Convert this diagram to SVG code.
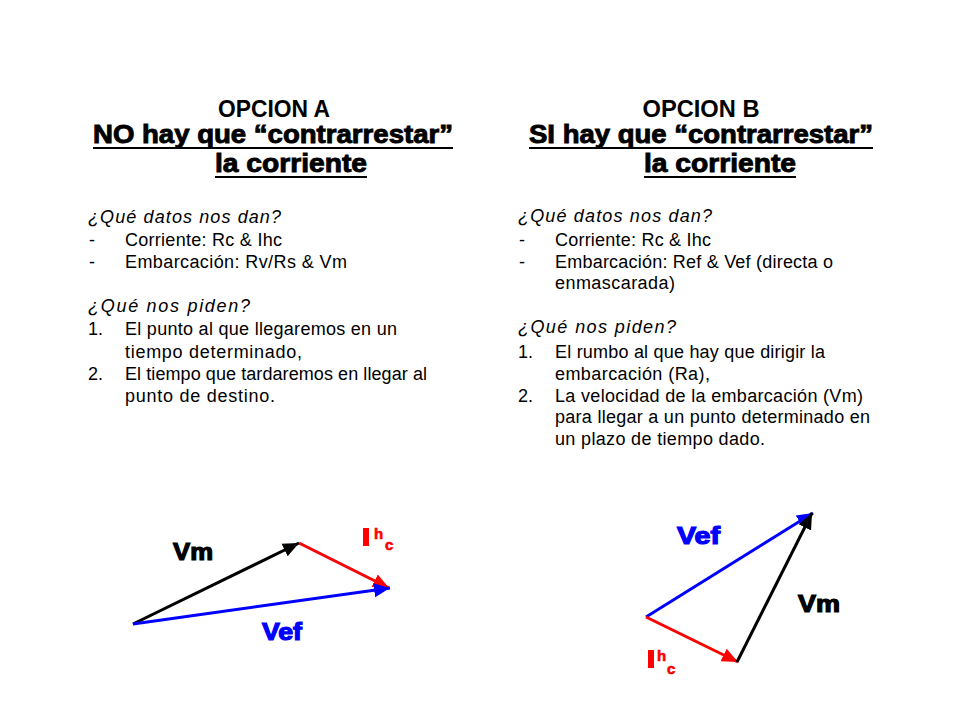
<svg xmlns="http://www.w3.org/2000/svg" width="960" height="720" viewBox="0 0 960 720">
<style>
.h1{font-family:"Liberation Sans",Arial,sans-serif;font-weight:bold;font-size:23px;fill:#000;text-anchor:middle}
.h2{font-family:"Liberation Sans",Arial,sans-serif;font-weight:bold;font-size:25px;fill:#000;stroke:#000;stroke-width:0.9}
.t{font-family:"Liberation Sans",Arial,sans-serif;font-size:18px;fill:#000}
.q{font-family:"Liberation Sans",Arial,sans-serif;font-size:18px;font-style:italic;fill:#000}
.ul{stroke:#000;stroke-width:2}
.lb{font-family:"Liberation Sans",Arial,sans-serif;font-weight:bold;font-size:23px;stroke-width:1.2}
.sx{font-family:"Liberation Sans",Arial,sans-serif;font-weight:bold;font-size:15px;stroke:#ff0000;stroke-width:0.6}
.vec{stroke-width:3;fill:none}
</style>
<defs>
<marker id="ak" markerUnits="userSpaceOnUse" markerWidth="20" markerHeight="20" refX="16" refY="7" orient="auto" viewBox="0 0 20 14"><polygon points="0,0 16,7 0,14" fill="#000"/></marker>
<marker id="ar" markerUnits="userSpaceOnUse" markerWidth="20" markerHeight="20" refX="16" refY="7" orient="auto" viewBox="0 0 20 14"><polygon points="0,0 16,7 0,14" fill="#ff0000"/></marker>
<marker id="ab" markerUnits="userSpaceOnUse" markerWidth="20" markerHeight="20" refX="16" refY="7" orient="auto" viewBox="0 0 20 14"><polygon points="0,0 16,7 0,14" fill="#0000ff"/></marker>
</defs>
<rect width="960" height="720" fill="#fff"/>

<g id="opcionA">
<text class="h1" x="274" y="117" textLength="112" lengthAdjust="spacingAndGlyphs">OPCION A</text>
<text class="h2" x="93" y="143" textLength="360" lengthAdjust="spacingAndGlyphs">NO hay que “contrarrestar”</text>
<line class="ul" x1="93" y1="148" x2="453" y2="148"/>
<text class="h2" x="215" y="172" textLength="152" lengthAdjust="spacingAndGlyphs">la corriente</text>
<line class="ul" x1="215" y1="177" x2="367" y2="177"/>
<text class="q" x="88" y="223" textLength="193">¿Qué datos nos dan?</text>
<text class="t" x="89" y="246">-</text>
<text class="t" x="125" y="246" textLength="157">Corriente: Rc &amp; Ihc</text>
<text class="t" x="89" y="268">-</text>
<text class="t" x="125" y="268" textLength="222">Embarcación: Rv/Rs &amp; Vm</text>
<text class="q" x="88" y="312" textLength="162">¿Qué nos piden?</text>
<text class="t" x="88" y="335">1.</text>
<text class="t" x="125" y="335" textLength="272">El punto al que llegaremos en un</text>
<text class="t" x="125" y="358" textLength="177">tiempo determinado,</text>
<text class="t" x="88" y="380">2.</text>
<text class="t" x="125" y="380" textLength="302">El tiempo que tardaremos en llegar al</text>
<text class="t" x="125" y="402" textLength="150">punto de destino.</text>
</g>

<g id="opcionB">
<text class="h1" x="701" y="117" textLength="117" lengthAdjust="spacingAndGlyphs">OPCION B</text>
<text class="h2" x="529" y="143" textLength="344" lengthAdjust="spacingAndGlyphs">SI hay que “contrarrestar”</text>
<line class="ul" x1="529" y1="148" x2="873" y2="148"/>
<text class="h2" x="644" y="172" textLength="152" lengthAdjust="spacingAndGlyphs">la corriente</text>
<line class="ul" x1="644" y1="177" x2="796" y2="177"/>
<text class="q" x="518" y="222" textLength="194">¿Qué datos nos dan?</text>
<text class="t" x="519" y="246">-</text>
<text class="t" x="555" y="246" textLength="156">Corriente: Rc &amp; Ihc</text>
<text class="t" x="519" y="268">-</text>
<text class="t" x="555" y="268" textLength="278">Embarcación: Ref &amp; Vef (directa o</text>
<text class="t" x="555" y="289" textLength="120">enmascarada)</text>
<text class="q" x="518" y="333" textLength="158">¿Qué nos piden?</text>
<text class="t" x="518" y="358">1.</text>
<text class="t" x="555" y="358" textLength="270">El rumbo al que hay que dirigir la</text>
<text class="t" x="555" y="380" textLength="155">embarcación (Ra),</text>
<text class="t" x="518" y="402">2.</text>
<text class="t" x="555" y="402" textLength="308">La velocidad de la embarcación (Vm)</text>
<text class="t" x="555" y="423" textLength="315">para llegar a un punto determinado en</text>
<text class="t" x="555" y="445" textLength="210">un plazo de tiempo dado.</text>
</g>

<g id="connectors">
<line class="vec" x1="133" y1="624" x2="299" y2="543" stroke="#000" marker-end="url(#ak)"/>
<line class="vec" x1="299" y1="543" x2="389" y2="588" stroke="#ff0000" marker-end="url(#ar)"/>
<line class="vec" x1="133" y1="624" x2="390" y2="588" stroke="#0000ff" marker-end="url(#ab)"/>
<line class="vec" x1="646" y1="617" x2="813" y2="513" stroke="#0000ff" marker-end="url(#ab)"/>
<line class="vec" x1="646" y1="617" x2="738" y2="662" stroke="#ff0000" marker-end="url(#ar)"/>
<line class="vec" x1="737" y1="662" x2="812" y2="513" stroke="#000" marker-end="url(#ak)"/>
</g>

<g id="labelsA">
<text class="lb" x="173" y="560" fill="#000" stroke="#000" textLength="40" lengthAdjust="spacingAndGlyphs">Vm</text>
<text class="lb" x="262" y="640" fill="#0000ff" stroke="#0000ff" textLength="40" lengthAdjust="spacingAndGlyphs">Vef</text>
<g fill="#ff0000">
<rect x="363" y="528" width="6" height="18"/>
<text class="sx" x="374" y="539">h</text>
<text class="sx" x="385" y="550">c</text>
</g>
</g>

<g id="labelsB">
<text class="lb" x="677" y="544" fill="#0000ff" stroke="#0000ff" textLength="43" lengthAdjust="spacingAndGlyphs">Vef</text>
<text class="lb" x="798" y="612" fill="#000" stroke="#000" textLength="42" lengthAdjust="spacingAndGlyphs">Vm</text>
<g fill="#ff0000">
<rect x="648" y="650" width="6" height="18"/>
<text class="sx" x="657" y="661">h</text>
<text class="sx" x="667" y="674">c</text>
</g>
</g>
</svg>
